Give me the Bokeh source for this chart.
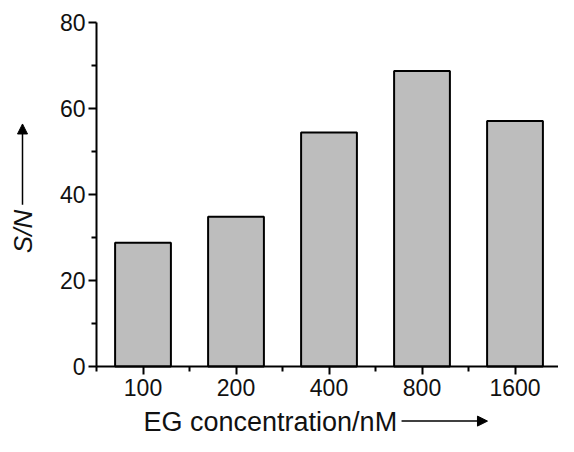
from bokeh.plotting import figure
from bokeh.models import Range1d, FixedTicker, Label, Arrow, NormalHead
from bokeh.embed import file_html
from bokeh.resources import INLINE
from math import pi

categories = ["100", "200", "400", "800", "1600"]
sn_values = [28.8, 34.8, 54.4, 68.7, 57.1]
y_ticks = [0, 20, 40, 60, 80]
y_minor = [10, 30, 50, 70]

x_pos = list(range(len(categories)))
x_minor = [i - 0.5 for i in range(len(categories))]

FONT = "Liberation Sans"
W, H = 558, 436
# whole canvas is the frame; axes are pinned inside it
X0, X1 = -1.5323, 4.4677
Y0, Y1 = -16.279, 85.116

p = figure(width=W, height=H, output_backend="svg", toolbar_location=None,
           x_range=Range1d(X0, X1), y_range=Range1d(Y0, Y1),
           min_border_left=0, min_border_right=0, min_border_top=0, min_border_bottom=0)
p.outline_line_color = None
p.grid.visible = False
p.background_fill_color = "white"
p.border_fill_color = "white"

p.vbar(x=x_pos, top=sn_values, width=0.6, bottom=0,
       fill_color="#bdbdbd", line_color="black", line_width=2)

p.xaxis.ticker = FixedTicker(ticks=x_pos, minor_ticks=x_minor)
p.xaxis.major_label_overrides = {i: c for i, c in zip(x_pos, categories)}
p.yaxis.ticker = FixedTicker(ticks=y_ticks, minor_ticks=y_minor)
p.xaxis.fixed_location = 0
p.xaxis.bounds = (-0.5, X1)
p.yaxis.fixed_location = -0.5
p.yaxis.bounds = (0, 80)

for ax in (p.xaxis[0], p.yaxis[0]):
    ax.axis_line_width = 2
    ax.axis_line_color = "black"
    ax.major_tick_line_width = 2
    ax.minor_tick_line_width = 2
    ax.major_tick_line_color = "black"
    ax.minor_tick_line_color = "black"
    ax.major_tick_in = 0
    ax.minor_tick_in = 0
    ax.major_tick_out = 8
    ax.minor_tick_out = 5
    ax.major_label_text_font = FONT
    ax.major_label_text_font_size = "23px"
    ax.major_label_text_color = "#111111"

p.yaxis.major_label_standoff = 3
p.xaxis.major_label_standoff = 4

head = dict(size=10, fill_color="black", line_color="black", line_width=1)

p.add_layout(Label(x=0.0054, y=-13.0, text="EG concentration/nM", text_font=FONT,
                   text_font_size="27px", text_color="#111111",
                   text_align="left", text_baseline="middle"))
p.add_layout(Arrow(x_start=2.78, y_start=-12.7, x_end=3.704, y_end=-12.7,
                   line_color="black", line_width=1.5, end=NormalHead(**head)))

p.add_layout(Label(x=-1.2957, y=31.4, text="S/N", text_font=FONT,
                   text_font_size="26px", text_font_style="italic", text_color="#111111",
                   text_align="center", text_baseline="middle", angle=pi / 2))
p.add_layout(Arrow(x_start=-1.2957, y_start=37.6, x_end=-1.2957, y_end=56.4,
                   line_color="black", line_width=1.5, end=NormalHead(**head)))

open("out.html", "w").write(file_html(p, INLINE))
